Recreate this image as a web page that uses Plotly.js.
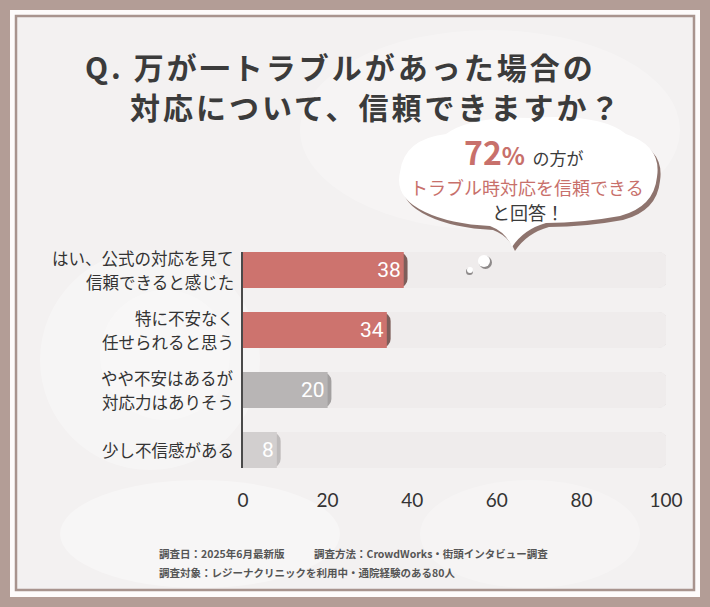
<!DOCTYPE html>
<html>
<head>
<meta charset="utf-8">
<script src="https://cdn.plot.ly/plotly-3.0.1.min.js"></script>
<style>
  body { margin: 0; padding: 0; background: #b39d96; }
  #chart { width: 710px; height: 607px; }
</style>
</head>
<body>
<div id="chart"></div>
<script>
// answers, top to bottom (the line break is where the label wraps)
var answers = [
  'はい、公式の対応を見て\n信頼できると感じた',
  '特に不安なく\n任せられると思う',
  'やや不安はあるが\n対応力はありそう',
  '少し不信感がある'
];
var counts = [38, 34, 20, 8];
var full = [100, 100, 100, 100];
var barColors = ['#cd736e', '#cd736e', '#b8b5b5', '#d2cfcf'];
var edgeColors = ['#7d5e5a', '#7d5e5a', '#a3a0a0', '#bebbbb'];

var title1 = 'Q. 万が一トラブルがあった場合の';
var title2 = '対応について、信頼できますか？';
var note1a = '調査日：2025年6月最新版';
var note1b = '調査方法：CrowdWorks・街頭インタビュー調査';
var note2 = '調査対象：レジーナクリニックを利用中・通院経験のある80人';

// plot box in pixels, used to place decorations in paper coords
var L = 243, R = 666, T = 252, B = 468;
function fx(p) { return (p - L) / (R - L); }
function fy(p) { return (B - p) / (B - T); }
function path(pts) {
  var s = '';
  pts.forEach(function (p) {
    s += p[0] + ' ';
    for (var i = 1; i < p.length; i += 2) {
      s += fx(p[i]).toFixed(4) + ',' + fy(p[i + 1]).toFixed(4) + ' ';
    }
  });
  return s + 'Z';
}

var cloud = [
  ['M', 425, 212],
  ['Q', 394, 198, 400, 172],
  ['Q', 404, 139, 446, 134],
  ['Q', 470, 116, 530, 118],
  ['Q', 600, 113, 626, 134],
  ['Q', 662, 146, 657, 177],
  ['Q', 654, 207, 620, 216],
  ['Q', 582, 223, 546, 223],
  ['Q', 524, 229, 512, 247],
  ['Q', 506, 232, 490, 226],
  ['Q', 450, 224, 425, 212]
];
var cloudShadow = cloud.map(function (p) {
  var q = [p[0]];
  for (var i = 1; i < p.length; i += 2) { q.push(p[i] + 3, p[i + 1] + 4); }
  return q;
});

var font = '"Noto Sans CJK JP", "Noto Sans", sans-serif';

var bgTrace = {
  type: 'bar', orientation: 'h', y: answers, x: full,
  marker: { color: '#efecec', cornerradius: 10 },
  width: 0.6, hoverinfo: 'skip'
};
var bgEdge = {
  type: 'bar', orientation: 'h', y: answers, x: full, base: 0.5,
  marker: { color: '#dddada', cornerradius: 10 },
  width: 0.6, hoverinfo: 'skip'
};
var edgeTrace = {
  type: 'bar', orientation: 'h', y: answers, x: counts, base: 0.9,
  marker: { color: edgeColors, cornerradius: 9 },
  width: 0.6, hoverinfo: 'skip'
};
var mainTrace = {
  type: 'bar', orientation: 'h', y: answers, x: counts,
  marker: { color: barColors, cornerradius: 9 },
  width: 0.6,
  text: counts.map(String), textposition: 'inside', insidetextanchor: 'end',
  textfont: { color: '#ffffff', size: 21, family: 'Roboto, sans-serif' },
  hoverinfo: 'skip'
};

var shapes = [
  { type: 'rect', xref: 'paper', yref: 'paper', layer: 'below',
    x0: fx(10), x1: fx(700), y0: fy(597), y1: fy(10),
    fillcolor: '#fdfbfb', line: { width: 0 } },
  { type: 'rect', xref: 'paper', yref: 'paper', layer: 'below',
    x0: fx(16), x1: fx(694), y0: fy(590), y1: fy(16),
    fillcolor: '#f3f1f1', line: { color: '#a8948e', width: 2.5 } }
];
// soft light patches on the panel
[[40, 260, 250, 470, 0.3], [60, 340, 480, 588, 0.35], [300, 680, 30, 230, 0.25],
 [100, 230, 290, 420, 0.25], [420, 640, 480, 588, 0.25]].forEach(function (c) {
  shapes.push({ type: 'circle', xref: 'paper', yref: 'paper', layer: 'below',
    x0: fx(c[0]), x1: fx(c[1]), y0: fy(c[3]), y1: fy(c[2]),
    fillcolor: 'rgba(255,255,255,' + c[4] + ')', line: { width: 0 } });
});
shapes.push(
  { type: 'path', xref: 'paper', yref: 'paper', path: path(cloudShadow),
    fillcolor: '#8e746e', line: { width: 0 } },
  { type: 'path', xref: 'paper', yref: 'paper', path: path(cloud),
    fillcolor: '#ffffff', line: { width: 0 } },
  { type: 'circle', xref: 'paper', yref: 'paper',
    x0: fx(466), x1: fx(473), y0: fy(275), y1: fy(268),
    fillcolor: '#8e8a8a', line: { width: 0 } },
  { type: 'circle', xref: 'paper', yref: 'paper',
    x0: fx(467), x1: fx(473), y0: fy(273), y1: fy(267),
    fillcolor: '#ffffff', line: { width: 0 } },
  { type: 'circle', xref: 'paper', yref: 'paper',
    x0: fx(479), x1: fx(492), y0: fy(269), y1: fy(256),
    fillcolor: '#8e8a8a', line: { width: 0 } },
  { type: 'circle', xref: 'paper', yref: 'paper',
    x0: fx(478), x1: fx(490), y0: fy(267), y1: fy(255),
    fillcolor: '#ffffff', line: { width: 0 } }
);

function note(text, x, y, size, color, anchor, bold) {
  return {
    xref: 'paper', yref: 'paper', x: fx(x), y: fy(y),
    xanchor: anchor || 'left', yanchor: 'middle', showarrow: false,
    text: bold ? '<b>' + text + '</b>' : text,
    font: { family: font, size: size, color: color }
  };
}
function spaced(text) {
  return '<span style="letter-spacing:3px">' + text + '</span>';
}

var annotations = [
  note(spaced(title1), 83, 66, 30, '#3b3b3b', 'left', true),
  note(spaced(title2), 128, 106, 30, '#3b3b3b', 'left', true),
  {
    xref: 'paper', yref: 'paper', x: fx(524), y: fy(151),
    xanchor: 'center', yanchor: 'middle', showarrow: false,
    text: '<span style="font-size:32px;color:#c8706b"><b>72</b></span>' +
          '<span style="font-size:24px;color:#c8706b"><b>%</b></span>' +
          '<span style="font-size:17px;color:#3b3b3b">  の方が</span>',
    font: { family: font, size: 17, color: '#3b3b3b' }
  },
  note('トラブル時対応を信頼できる', 527, 187, 18, '#c8706b', 'center', false),
  note('と回答！', 528, 212, 18, '#3b3b3b', 'center', false),
  note(note1a, 157, 553, 10.5, '#555555', 'left', true),
  note(note1b, 312, 553, 10.5, '#555555', 'left', true),
  note(note2, 157, 572, 10.5, '#555555', 'left', true)
];

// category labels, one line each, placed on the category axis
answers.forEach(function (a) {
  var lines = a.split('\n');
  lines.forEach(function (ln, i) {
    annotations.push({
      xref: 'paper', yref: 'y', x: fx(236), y: a,
      xanchor: 'right', yanchor: 'middle', showarrow: false,
      yshift: (lines.length - 1) * 12 - i * 24,
      text: ln, font: { family: font, size: 16.5, color: '#333333' }
    });
  });
});

var layout = {
  width: 710, height: 607,
  margin: { l: L, r: 710 - R, t: T, b: 607 - B },
  paper_bgcolor: '#b39d96',
  plot_bgcolor: 'rgba(0,0,0,0)',
  barmode: 'overlay',
  showlegend: false,
  xaxis: {
    range: [0, 100], dtick: 20, showgrid: false, zeroline: false,
    ticks: '', ticklabelstandoff: 19,
    tickfont: { family: 'Lato, "Noto Sans", sans-serif', size: 19, color: '#333333' },
    fixedrange: true
  },
  yaxis: {
    type: 'category', range: [3.3, -0.3],
    showline: true, linecolor: '#4a4a4a', linewidth: 2.5,
    showgrid: false, zeroline: false, ticks: '', showticklabels: false,
    fixedrange: true
  },
  shapes: shapes,
  annotations: annotations
};

Plotly.newPlot('chart', [bgEdge, bgTrace, edgeTrace, mainTrace], layout, { displayModeBar: false, staticPlot: true });
</script>
</body>
</html>
